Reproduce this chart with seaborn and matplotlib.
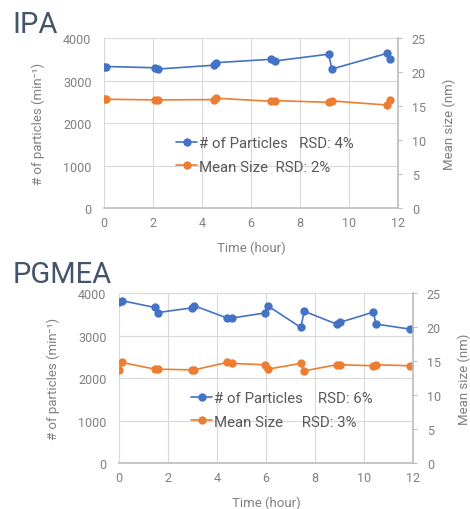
import matplotlib
matplotlib.use("Agg")
import matplotlib.pyplot as plt
import seaborn as sns
import pandas as pd

# IPA run
ipa_time = [0.0, 0.1, 2.1, 2.2, 4.47, 4.58, 6.82, 6.97, 9.17, 9.3, 11.55, 11.68]
ipa_particles = [3320, 3330, 3300, 3270, 3360, 3420, 3500, 3460, 3620, 3270, 3640, 3500]
ipa_size = [16.1, 16.0, 15.9, 15.9, 15.95, 16.15, 15.7, 15.8, 15.55, 15.75, 15.15, 15.95]

# PGMEA run
pgmea_time = [0.0, 0.11, 1.47, 1.58, 2.97, 3.07, 4.42, 4.6, 5.94, 6.07, 7.42, 7.56,
              8.88, 9.02, 10.38, 10.49, 11.88]
pgmea_particles = [3780, 3820, 3660, 3540, 3650, 3700, 3410, 3410, 3530, 3700, 3190, 3570,
                   3270, 3310, 3550, 3270, 3150]
pgmea_size = [13.7, 14.8, 13.8, 13.8, 13.7, 13.7, 14.8, 14.65, 14.45, 13.8, 14.65, 13.55,
              14.45, 14.45, 14.3, 14.45, 14.3]

panels = [
    ("IPA", ipa_time, ipa_particles, ipa_size,
     "# of Particles   RSD: 4%", "Mean Size  RSD: 2%"),
    ("PGMEA", pgmea_time, pgmea_particles, pgmea_size,
     "# of Particles    RSD: 6%", "Mean Size     RSD: 3%"),
]

sns.set_theme(style="white")
plt.rcParams['font.family'] = ['Roboto', 'DejaVu Sans']

BLUE = "#4472C4"
ORANGE = "#ED7D31"
GRAY = "#808080"
GRID = "#D9D9D9"

fig = plt.figure(figsize=(4.7, 5.1), dpi=100)

# axes boxes in figure fractions (left, bottom, width, height)
boxes = [(0.2213, 0.590, 0.6255, 0.3335), (0.2532, 0.0902, 0.6255, 0.3333)]
title_y = [0.935, 0.445]

for (name, t, n, s, lab_n, lab_s), box, ty in zip(panels, boxes, title_y):
    df = pd.DataFrame({"time": t, "particles": n, "size": s})
    ax = fig.add_axes(box)
    ax2 = ax.twinx()

    sns.lineplot(data=df, x="time", y="particles", ax=ax, color=BLUE, marker="o",
                 markersize=6, markeredgewidth=0, linewidth=1.2, sort=False,
                 estimator=None, label=lab_n, legend=False)
    sns.lineplot(data=df, x="time", y="size", ax=ax2, color=ORANGE, marker="o",
                 markersize=6, markeredgewidth=0, linewidth=1.2, sort=False,
                 estimator=None, label=lab_s, legend=False)

    ax.set_xlim(0, 12)
    ax.set_ylim(0, 4000)
    ax2.set_ylim(0, 25)
    ax.set_xticks(range(0, 13, 2))
    ax.set_yticks(range(0, 4001, 1000))
    ax2.set_yticks(range(0, 26, 5))

    ax.grid(True, color=GRID, linewidth=0.8)
    ax.set_axisbelow(True)
    for sp in ax.spines.values():
        sp.set_visible(False)
    for sp in ax2.spines.values():
        sp.set_visible(False)
    ax2.spines["right"].set_visible(True)
    ax2.spines["right"].set_color("#BFBFBF")
    ax2.spines["bottom"].set_visible(True)
    ax2.spines["bottom"].set_color("#BFBFBF")

    ax.tick_params(axis="both", length=0, colors=GRAY, labelsize=9)
    ax.tick_params(axis="y", pad=9)
    ax.tick_params(axis="x", pad=6)
    ax2.tick_params(axis="y", length=3, width=0.8, color="#BFBFBF",
                    labelcolor=GRAY, labelsize=9, pad=7, direction="out", right=True)

    ax.set_xlabel("Time (hour)", color=GRAY, fontsize=9.5, labelpad=8)
    ax.set_ylabel("# of particles (min⁻¹)", color=GRAY, fontsize=9.5, labelpad=13)
    ax2.set_ylabel("Mean size (nm)", color=GRAY, fontsize=9.5, labelpad=12)

    handles = ax.get_lines()[:1] + ax2.get_lines()[:1]
    ax2.legend(handles, [lab_n, lab_s], loc="upper left",
               bbox_to_anchor=(0.245, 0.425), frameon=False, fontsize=10.8,
               labelcolor="#595959", handlelength=1.4, handletextpad=0.1,
               labelspacing=0.65, borderpad=0, borderaxespad=0)

    fig.text(0.027, ty, name, fontsize=21, color="#44546A", ha="left", va="baseline")

fig.savefig("out.png", dpi=100)
